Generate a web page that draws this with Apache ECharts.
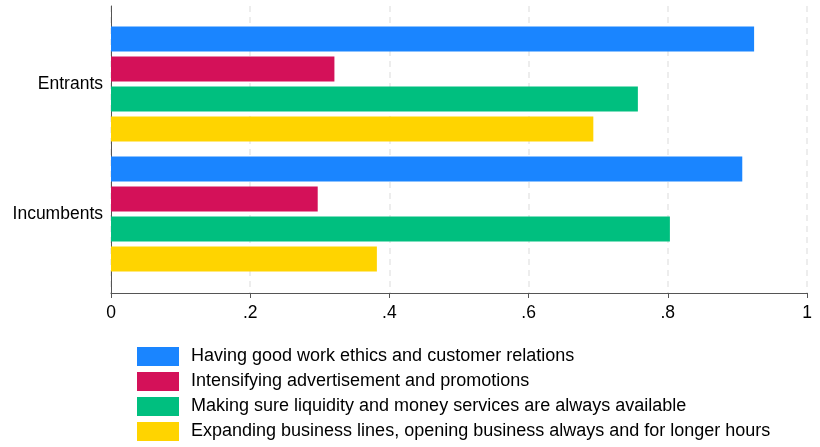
<!DOCTYPE html>
<html lang="en">
<head>
    <meta charset="UTF-8">
    <script src="https://cdn.jsdelivr.net/npm/echarts@6/dist/echarts.min.js"></script>
    <title>Strategies</title>
    <style>
        body { margin: 0; background: #fff; }
        #chart { width: 820px; height: 447px; }
    </style>
</head>
<body>
    <div id="chart"></div>
    <script>
        var categories = ['Entrants', 'Incumbents'];
        var seriesNames = [
            'Having good work ethics and customer relations',
            'Intensifying advertisement and promotions',
            'Making sure liquidity and money services are always available',
            'Expanding business lines, opening business always and for longer hours'
        ];
        var ethics = [0.924, 0.907];
        var advert = [0.321, 0.297];
        var liquidity = [0.757, 0.803];
        var expand = [0.693, 0.382];
        var tickValues = [0, 0.2, 0.4, 0.6, 0.8, 1];
        var tickLabels = ['0', '.2', '.4', '.6', '.8', '1'];

        var colors = ['#1a85ff', '#d41159', '#00bf7f', '#ffd400'];
        var values = [ethics, advert, liquidity, expand];
        var font = 'Liberation Sans, Arial, Helvetica, sans-serif';

        var myChart = echarts.init(document.getElementById('chart'));

        var series = [];
        for (var i = 0; i < values.length; i++) {
            series.push({
                name: seriesNames[i],
                type: 'bar',
                xAxisIndex: 1,
                yAxisIndex: 1,
                data: values[i],
                barWidth: 25,
                barGap: '20%',
                itemStyle: { color: colors[i] }
            });
        }

        var option = {
            backgroundColor: '#fff',
            animation: false,
            textStyle: { fontFamily: font },
            grid: [
                // outer plot region: gridlines and axis lines
                { left: 111, right: 13, top: 6, bottom: 154 },
                // inner region holding the bars
                { left: 111, right: 13, top: 19, height: 260 }
            ],
            xAxis: [
                {
                    gridIndex: 0,
                    type: 'value',
                    min: 0, max: 1, interval: 0.2,
                    axisLine: { show: true, lineStyle: { color: '#555', width: 1 } },
                    axisTick: { show: true, length: 5, lineStyle: { color: '#555' } },
                    axisLabel: {
                        fontSize: 17.5, color: '#000', margin: 11, fontFamily: font,
                        formatter: function (v) {
                            var k = tickValues.indexOf(Math.round(v * 10) / 10);
                            return k >= 0 ? tickLabels[k] : '';
                        }
                    },
                    splitLine: { show: true, lineStyle: { color: '#e8e8e8', type: [6, 5], width: 1.5 } }
                },
                {
                    gridIndex: 1,
                    type: 'value',
                    min: 0, max: 1,
                    show: false
                }
            ],
            yAxis: [
                {
                    gridIndex: 0,
                    type: 'value',
                    min: 0, max: 1,
                    axisLine: { show: true, lineStyle: { color: '#555', width: 1 } },
                    axisTick: { show: false },
                    axisLabel: { show: false },
                    splitLine: { show: false }
                },
                {
                    gridIndex: 1,
                    type: 'category',
                    data: categories,
                    inverse: true,
                    axisLine: { show: false },
                    axisTick: { show: false },
                    axisLabel: { fontSize: 17.5, color: '#000', margin: 8, fontFamily: font }
                }
            ],
            legend: {
                orient: 'vertical',
                left: 137,
                top: 347,
                padding: 0,
                icon: 'rect',
                itemWidth: 42,
                itemHeight: 19,
                itemGap: 6,
                data: seriesNames,
                textStyle: { fontSize: 18, lineHeight: 19, color: '#000', fontFamily: font, padding: [0, 0, 0, 7] }
            },
            series: series
        };

        myChart.setOption(option);
    </script>
</body>
</html>
